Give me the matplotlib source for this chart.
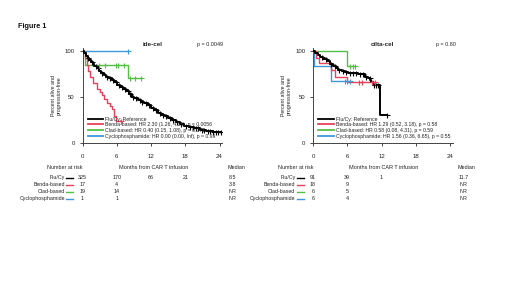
import numpy as np
import matplotlib
matplotlib.use("Agg")
import matplotlib.pyplot as plt
from matplotlib.lines import Line2D
from matplotlib.transforms import blended_transform_factory

plt.rcParams['font.family'] = ['Liberation Sans', 'DejaVu Sans']

# ---------------- data ----------------
groups = ["Flu/Cy", "Benda-based", "Clad-based", "Cyclophosphamide"]
colors = ["#000000", "#e8415a", "#55bf45", "#3d98dc"]
xticks = [0, 6, 12, 18, 24]
yticks = [0, 50, 100]

# ide-cel
ide_flu_t = [0, 0.3, 0.6, 0.9, 1.2, 1.5, 1.8, 2.1, 2.5, 2.9, 3.3, 3.7, 4.1, 4.6, 5.1, 5.6, 6.1, 6.6, 7.1,
             7.6, 8.1, 8.6, 9.1, 9.7, 10.2, 10.8, 11.4, 12.0, 12.6, 13.2, 13.8, 14.4, 15.0, 15.6, 16.3,
             17.0, 17.8, 18.6, 19.5, 20.5, 21.6, 22.8]
ide_flu_s = [100, 97, 94, 92, 90, 88, 86, 84, 81, 78, 76, 74, 72, 70, 68, 66, 63, 61, 59,
             57, 53, 50, 49, 47, 45, 43, 41, 38, 36, 33, 31, 29, 27, 25, 23,
             21, 19, 17.5, 16, 14.5, 13.5, 12.5]
ide_flu_end = 24.3
ide_flu_cens = [1.0, 1.6, 2.3, 2.7, 3.5, 4.3, 4.9, 5.4, 5.9, 6.4, 6.9, 7.4, 7.9, 8.4, 8.9, 9.4, 10.0,
                10.5, 11.1, 11.7, 12.3, 12.9, 13.5, 14.1, 14.7, 15.3, 15.9, 16.6, 17.3, 18.1, 18.9,
                19.3, 19.9, 20.3, 20.9, 21.3, 21.9, 22.3, 22.9, 23.3, 23.7, 24.3]
ide_benda_t = [0, 0.5, 0.8, 1.0, 1.4, 1.9, 2.5, 3.0, 3.5, 3.8, 4.3, 4.8, 5.2, 5.6, 5.9]
ide_benda_s = [100, 92, 85, 78, 72, 65, 59, 55, 52, 48, 44, 40, 37, 30, 24]
ide_benda_end = 6.8
ide_benda_cens = [6.8]
ide_clad_t = [0, 0.4, 7.9]
ide_clad_s = [100, 84.5, 70]
ide_clad_end = 10.2
ide_clad_cens = [2.9, 4.0, 5.8, 6.3, 7.2, 8.4, 9.2, 10.2]
ide_cyc_t = [0]
ide_cyc_s = [100]
ide_cyc_end = 7.9
ide_cyc_cens = [7.9]

ide_risk = [[325, 170, 66, 21], [17, 4], [19, 14], [1, 1]]
ide_median = ["8.5", "3.8", "NR", "NR"]
ide_labels = ["Flu/Cy: Reference",
              "Benda-based: HR 2.30 (1.26, 4.15), p = 0.0056",
              "Clad-based: HR 0.40 (0.15, 1.08), p = 0.071",
              "Cyclophosphamide: HR 0.00 (0.00, Inf), p = 0.99"]

# cilta-cel
cil_flu_t = [0, 0.4, 0.8, 1.2, 1.8, 2.4, 2.9, 3.5, 4.0, 4.4, 5.0, 5.6, 6.2, 6.7, 7.9, 9.1, 9.6, 10.0,
             10.2, 10.5, 11.7]
cil_flu_s = [100, 97, 95, 93, 91, 89, 86, 83, 81, 79, 78, 77, 76, 75.5, 74.5, 72, 70, 68,
             66, 63, 31]
cil_flu_end = 12.9
cil_flu_cens = [1.5, 2.2, 3.2, 3.8, 4.6, 5.2, 5.8, 6.4, 7.0, 7.5, 8.2, 8.7, 9.3, 9.9, 10.7, 11.0,
                11.4, 12.9]
cil_benda_t = [0, 0.5, 1.0, 3.2, 3.8, 5.9]
cil_benda_s = [100, 92, 87, 79, 72, 66]
cil_benda_end = 10.8
cil_benda_cens = [8.0, 8.5, 10.3, 10.8]
cil_clad_t = [0, 6.0]
cil_clad_s = [100, 84]
cil_clad_end = 7.4
cil_clad_cens = [6.4, 7.0, 7.4]
cil_cyc_t = [0, 0.2, 3.2]
cil_cyc_s = [100, 84, 67]
cil_cyc_end = 6.4
cil_cyc_cens = [5.6, 6.0, 6.4]

cil_risk = [[91, 39, 1], [18, 9], [6, 5], [6, 4]]
cil_median = ["11.7", "NR", "NR", "NR"]
cil_labels = ["Flu/Cy: Reference",
              "Benda-based: HR 1.29 (0.52, 3.18), p = 0.58",
              "Clad-based: HR 0.58 (0.08, 4.31), p = 0.59",
              "Cyclophosphamide: HR 1.56 (0.36, 6.65), p = 0.55"]

# ---------------- figure ----------------
W, H = 520, 292
fig = plt.figure(figsize=(W / 100, H / 100), dpi=100)

def fx(x):
    return x / W

def fy(y):
    return 1 - y / H

TXT = "#222222"
AX_W = 139.9
AX_H = 103 * 0.926


def step_val(t, s, x):
    i = np.searchsorted(np.asarray(t), x, side="right") - 1
    return np.asarray(s)[i]


def panel(x0, title, pval, pval_x, curves, labels, risk, medians):
    ax = fig.add_axes([fx(x0), fy(143.3), fx(AX_W), AX_H / H])
    ax.set_xlim(0, 24.5)
    ax.set_ylim(0, 103)
    handles = []
    for i, (t, s, end, cens) in enumerate(curves):
        tt = list(t) + [end]
        ss = list(s) + [s[-1]]
        lw = 1.4 if i == 0 else 1.0
        ax.step(tt, ss, where="post", color=colors[i], lw=lw, zorder=4 - i * 0.1)
        cv = [step_val(t, s, c) for c in cens]
        ax.plot(cens, cv, ls="none", marker="+", ms=3.6, mew=0.8, color=colors[i], zorder=4)
        handles.append(Line2D([], [], color=colors[i], lw=1.3))
    for sp in ["top", "right"]:
        ax.spines[sp].set_visible(False)
    for sp in ["left", "bottom"]:
        ax.spines[sp].set_color("#444444")
        ax.spines[sp].set_linewidth(0.7)
    ax.set_xticks(xticks)
    ax.set_yticks(yticks)
    ax.tick_params(axis="x", length=2.5, width=0.7, pad=5.0, labelsize=4.3, colors="#444444", labelcolor=TXT)
    ax.tick_params(axis="y", length=2.5, width=0.7, pad=3.0, labelsize=4.3, colors="#444444", labelcolor=TXT)
    ax.text(12.2, 106.5, title, ha="center", va="center", fontsize=4.5, fontweight="bold", color=TXT)
    ax.text(pval_x, 107.2, pval, ha="center", va="center", fontsize=3.9, color=TXT)
    ax.text(-26.5 / AX_W, 0.5, "Percent alive and\nprogression-free", transform=ax.transAxes,
            rotation=90, ha="center", va="center", fontsize=3.8, color=TXT, linespacing=1.1)
    ax.legend(handles, labels, loc="lower left", bbox_to_anchor=(0.039, 0.05), frameon=False,
              fontsize=3.7, handlelength=3.0, handletextpad=0.4, labelspacing=0.12,
              borderpad=0, borderaxespad=0, labelcolor=TXT)

    # risk table
    tr = blended_transform_factory(ax.transData, fig.transFigure)
    fig.text(fx(x0 - 17.5), fy(167.5), "Number at risk", ha="center", va="center", fontsize=3.9, color=TXT)
    fig.text(fx(x0 + 71), fy(167.5), "Months from CAR T infusion", ha="center", va="center",
             fontsize=4.0, color=TXT)
    fig.text(fx(x0 + 145), fy(167.5), "Median", ha="left", va="center", fontsize=3.9, color=TXT)
    rows_y = [177.7, 184.5, 191.5, 198.5]
    for i, g in enumerate(groups):
        yy = fy(rows_y[i])
        fig.text(fx(x0 - 17.5), yy, g, ha="right", va="center", fontsize=3.8, color=TXT)
        fig.add_artist(Line2D([fx(x0 - 16.5), fx(x0 - 9.5)], [yy, yy], color=colors[i], lw=1.0,
                              transform=fig.transFigure))
        for j, n in enumerate(risk[i]):
            ax.text(xticks[j], yy, str(n), transform=tr, ha="center", va="center", fontsize=3.9, color=TXT)
        fig.text(fx(x0 + 146), yy, medians[i], ha="left", va="center", fontsize=3.9, color=TXT)
    return ax


panel(82.5, "ide-cel", "p = 0.0049", 22.4,
      [(ide_flu_t, ide_flu_s, ide_flu_end, ide_flu_cens),
       (ide_benda_t, ide_benda_s, ide_benda_end, ide_benda_cens),
       (ide_clad_t, ide_clad_s, ide_clad_end, ide_clad_cens),
       (ide_cyc_t, ide_cyc_s, ide_cyc_end, ide_cyc_cens)],
      ide_labels, ide_risk, ide_median)

panel(313, "cilta-cel", "p = 0.80", 23.3,
      [(cil_flu_t, cil_flu_s, cil_flu_end, cil_flu_cens),
       (cil_benda_t, cil_benda_s, cil_benda_end, cil_benda_cens),
       (cil_clad_t, cil_clad_s, cil_clad_end, cil_clad_cens),
       (cil_cyc_t, cil_cyc_s, cil_cyc_end, cil_cyc_cens)],
      cil_labels, cil_risk, cil_median)

fig.text(fx(18), fy(27), "Figure 1", ha="left", va="center", fontsize=5.2, fontweight="bold", color="#111111")

fig.savefig("out.png", dpi=100, facecolor="white")
